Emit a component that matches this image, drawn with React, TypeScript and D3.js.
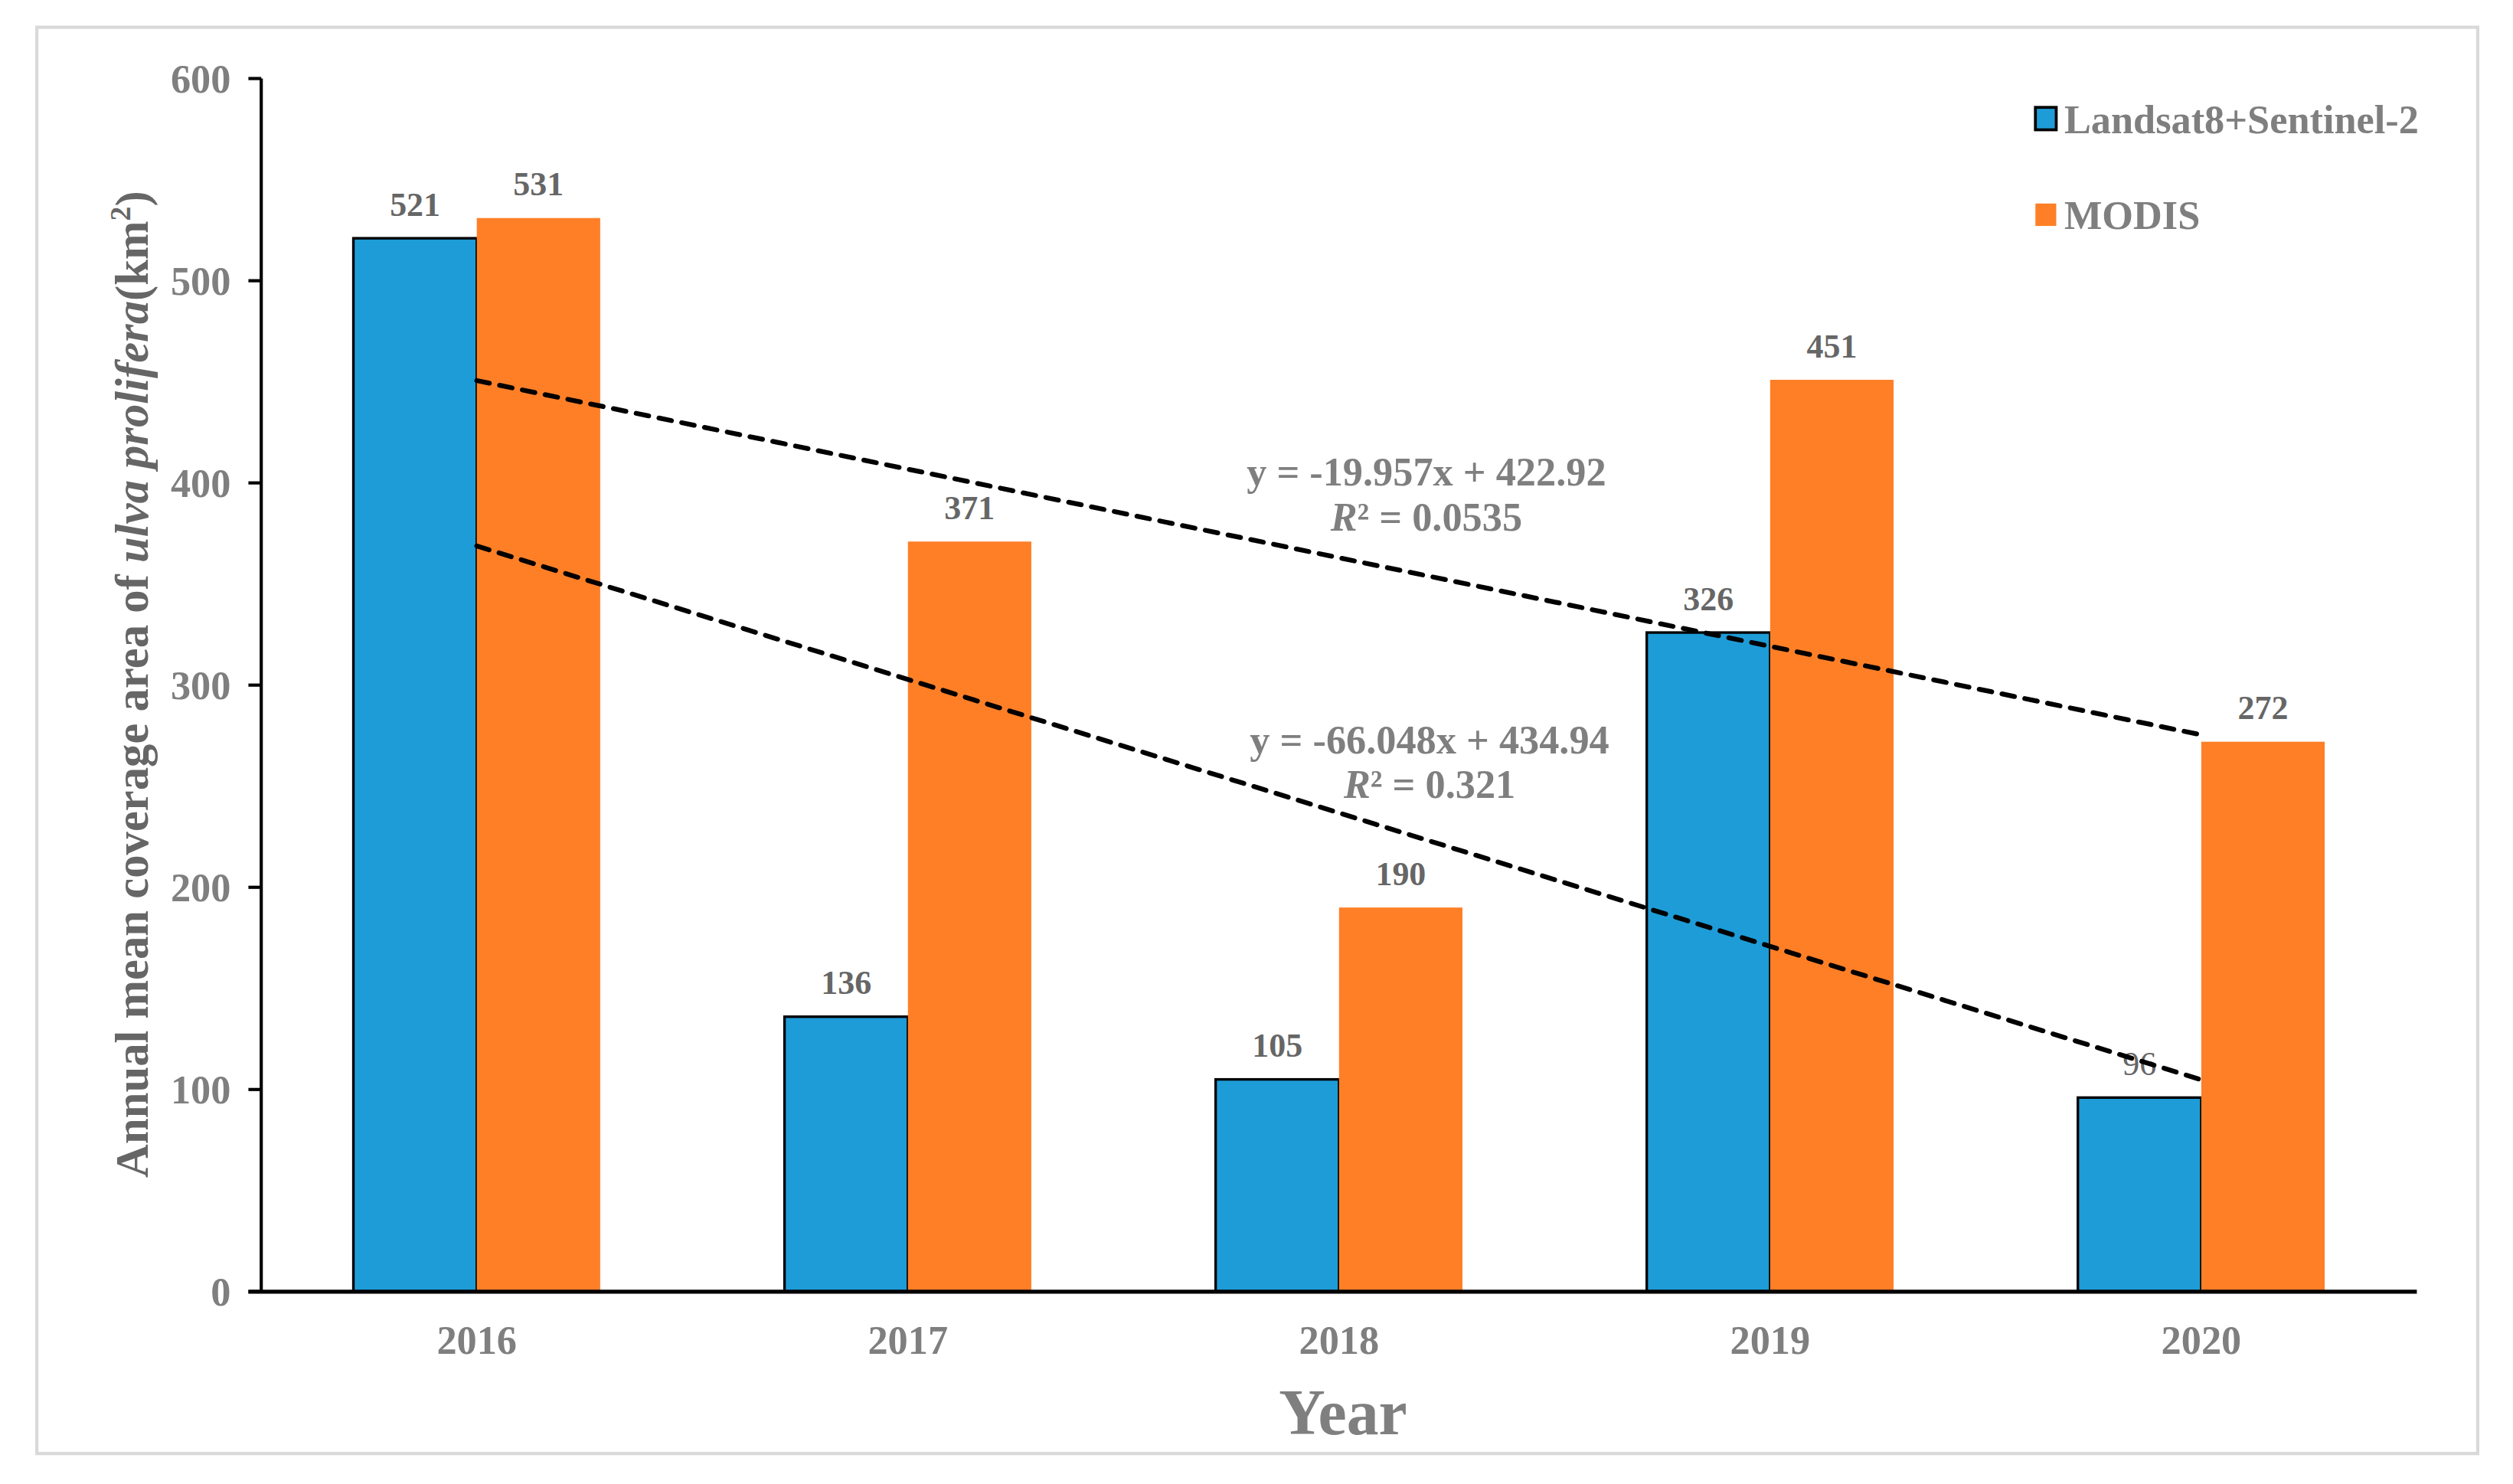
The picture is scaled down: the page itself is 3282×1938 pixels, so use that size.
import * as d3 from 'd3';

const years = ['2016', '2017', '2018', '2019', '2020'];
const landsat = [521, 136, 105, 326, 96];
const modis = [531, 371, 190, 451, 272];
const yTicks = [0, 100, 200, 300, 400, 500, 600];
const seriesNames = ['Landsat8+Sentinel-2', 'MODIS'];
const eqModis = ['y = -19.957x + 422.92', '0.0535'];
const eqLandsat = ['y = -66.048x + 434.94', '0.321'];

const W = 1568;
const H = 926;
const BLUE = '#1E9CD7';
const ORANGE = '#FF7F27';
const FONT = '"Liberation Serif", "Times New Roman", serif';

// least squares fit on x = 1..n
function fit(values: number[]) {
  const xs = values.map((_, i) => i + 1);
  const mx = d3.mean(xs)!;
  const my = d3.mean(values)!;
  const num = d3.sum(xs, (x, i) => (x - mx) * (values[i] - my));
  const den = d3.sum(xs, (x) => (x - mx) ** 2);
  const slope = num / den;
  return { slope, intercept: my - slope * mx };
}

export default function App() {
  const left = 163;
  const right = 1508;
  const top = 49;
  const bottom = 806;

  const x = d3.scaleBand<string>().domain(years).range([left, right]);
  const y = d3.scaleLinear().domain([0, 600]).range([bottom, top]);
  const barW = 77;
  const cx = (yr: string) => x(yr)! + x.bandwidth() / 2;

  // trendline between first and last category using the fit
  const trendPath = (values: number[]) => {
    const f = fit(values);
    const pts: [number, number][] = [1, values.length].map((i) => [
      cx(years[i - 1]),
      y(f.slope * i + f.intercept),
    ]);
    return d3.line()(pts);
  };

  return (
    <svg
      width={3282}
      height={1938}
      viewBox={`0 0 ${W} ${H}`}
      preserveAspectRatio="none"
      style={{ position: 'absolute', left: 0, top: 0, background: '#fff' }}
      fontFamily={FONT}
    >
      <rect x={0} y={0} width={W} height={H} fill="#fff" />
      <rect x={23} y={17} width={1523} height={890} fill="#fff" stroke="#d9d9d9" strokeWidth={2} />

      {/* bars */}
      {years.map((yr, i) => (
        <g key={yr}>
          <rect
            x={cx(yr) - barW}
            y={y(landsat[i])}
            width={barW}
            height={bottom - y(landsat[i])}
            fill={BLUE}
            stroke="#000"
            strokeWidth={1.6}
          />
          <rect
            x={cx(yr)}
            y={y(modis[i])}
            width={barW}
            height={bottom - y(modis[i])}
            fill={ORANGE}
          />
          <text
            x={cx(yr) - barW / 2}
            y={y(landsat[i]) - 14}
            textAnchor="middle"
            fontSize={21}
            fontWeight={landsat[i] === 96 ? 'normal' : 'bold'}
            fill="#666"
          >
            {landsat[i]}
          </text>
          <text
            x={cx(yr) + barW / 2}
            y={y(modis[i]) - 14}
            textAnchor="middle"
            fontSize={21}
            fontWeight="bold"
            fill="#666"
          >
            {modis[i]}
          </text>
          <text x={cx(yr)} y={845} textAnchor="middle" fontSize={25} fontWeight="bold" fill="#7f7f7f">
            {yr}
          </text>
        </g>
      ))}

      {/* trendlines */}
      {[modis, landsat].map((vals, k) => (
        <path
          key={k}
          d={trendPath(vals) || ''}
          fill="none"
          stroke="#000"
          strokeWidth={3}
          strokeDasharray="8 6.5"
          strokeLinecap="round"
        />
      ))}

      {/* axes */}
      <line x1={left} x2={left} y1={top} y2={bottom} stroke="#000" strokeWidth={2} />
      <line x1={155} x2={right} y1={bottom} y2={bottom} stroke="#000" strokeWidth={2.6} />
      {yTicks.map((t) => (
        <g key={t}>
          <line x1={155} x2={left} y1={y(t)} y2={y(t)} stroke="#000" strokeWidth={2} />
          <text
            x={144}
            y={y(t)}
            dy="0.35em"
            textAnchor="end"
            fontSize={25}
            fontWeight="bold"
            fill="#7f7f7f"
          >
            {t}
          </text>
        </g>
      ))}

      {/* equations */}
      <text x={890} y={303} textAnchor="middle" fontSize={25} fontWeight="bold" fill="#7f7f7f">
        {eqModis[0]}
      </text>
      <text x={890} y={331} textAnchor="middle" fontSize={25} fontWeight="bold" fill="#7f7f7f">
        <tspan fontStyle="italic">R</tspan>² = {eqModis[1]}
      </text>
      <text x={892} y={470} textAnchor="middle" fontSize={25} fontWeight="bold" fill="#7f7f7f">
        {eqLandsat[0]}
      </text>
      <text x={892} y={498} textAnchor="middle" fontSize={25} fontWeight="bold" fill="#7f7f7f">
        <tspan fontStyle="italic">R</tspan>² = {eqLandsat[1]}
      </text>

      {/* axis titles */}
      <text
        transform={`translate(92, 427) rotate(-90)`}
        textAnchor="middle"
        fontSize={29}
        fontWeight="bold"
        fill="#666"
      >
        Annual mean coverage area of <tspan fontStyle="italic">ulva prolifera</tspan>(km
        <tspan dy={-11} fontSize={18}>2</tspan>
        <tspan dy={11}>)</tspan>
      </text>
      <text x={838} y={895} textAnchor="middle" fontSize={40} fontWeight="bold" fill="#7f7f7f">
        Year
      </text>

      {/* legend */}
      {seriesNames.map((name, i) => (
        <g key={name} transform={`translate(1270, ${67 + i * 60})`}>
          <rect
            width={13}
            height={14}
            fill={i === 0 ? BLUE : ORANGE}
            stroke={i === 0 ? '#000' : 'none'}
            strokeWidth={1.8}
          />
          <text x={18} y={16} fontSize={25} fontWeight="bold" fill="#7f7f7f">
            {name}
          </text>
        </g>
      ))}
    </svg>
  );
}
